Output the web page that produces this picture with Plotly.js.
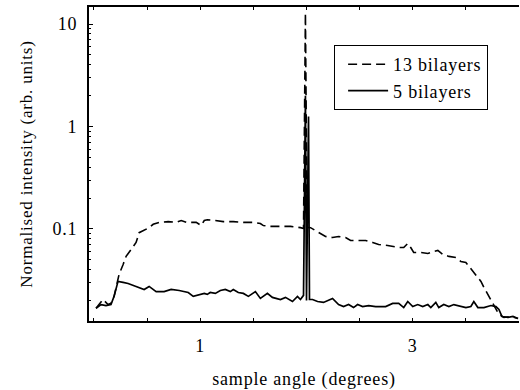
<!DOCTYPE html>
<html>
<head>
<meta charset="utf-8">
<script src="https://cdn.plot.ly/plotly-3.0.1.min.js"></script>
<style>html,body{margin:0;padding:0;background:#fff;}#chart{width:520px;height:390px;}
svg text{letter-spacing:0.8px;}</style>
</head>
<body>
<div id="chart"></div>
<script>
// 13 bilayers (dashed)
const angle13 = [0.019,0.085,0.132,0.160,0.189,0.236,0.274,0.302,0.349,0.396,0.425,0.472,0.519,0.557,0.613,0.698,0.774,0.821,0.868,0.962,1.009,1.038,1.066,1.142,1.217,1.311,1.406,1.5,1.566,1.594,1.660,1.755,1.849,1.943,1.972,1.99,2.005,2.038,2.066,2.113,2.179,2.245,2.302,2.368,2.415,2.481,2.557,2.623,2.679,2.764,2.821,2.868,2.915,2.953,2.981,3.009,3.075,3.142,3.198,3.236,3.283,3.34,3.406,3.453,3.5,3.547,3.594,3.642,3.67,3.717,3.764,3.811,3.858,3.925,3.991];
const intensity13 = [0.0168,0.0205,0.0183,0.0188,0.022,0.036,0.045,0.054,0.063,0.0738,0.092,0.097,0.103,0.111,0.116,0.118,0.116,0.121,0.116,0.116,0.108,0.121,0.123,0.121,0.118,0.118,0.116,0.116,0.113,0.108,0.106,0.106,0.106,0.103,0.101,12.8,0.104,0.103,0.099,0.092,0.0845,0.0826,0.0845,0.0826,0.0772,0.0772,0.0772,0.0738,0.0706,0.069,0.0675,0.066,0.066,0.0722,0.066,0.059,0.059,0.0577,0.0603,0.0617,0.0564,0.054,0.0527,0.0482,0.0471,0.0412,0.036,0.0308,0.0269,0.022,0.0179,0.0147,0.0137,0.014,0.0134];
// 5 bilayers (solid)
const angle5 = [0.019,0.066,0.113,0.160,0.189,0.226,0.274,0.321,0.396,0.472,0.519,0.585,0.660,0.726,0.802,0.887,0.934,0.991,1.038,1.066,1.094,1.142,1.189,1.236,1.283,1.311,1.358,1.406,1.453,1.519,1.566,1.632,1.679,1.755,1.802,1.868,1.915,1.943,1.972,1.99,2.0,2.019,2.028,2.057,2.104,2.160,2.245,2.302,2.349,2.396,2.443,2.481,2.528,2.585,2.651,2.745,2.811,2.868,2.915,2.953,3.0,3.047,3.094,3.142,3.17,3.217,3.245,3.292,3.34,3.387,3.453,3.5,3.547,3.575,3.613,3.67,3.736,3.783,3.811,3.84,3.896,3.943,3.991];
const intensity5 = [0.0168,0.0183,0.0179,0.0183,0.022,0.0308,0.0301,0.0294,0.0275,0.0257,0.0275,0.0245,0.0245,0.0257,0.0251,0.024,0.022,0.023,0.0235,0.023,0.024,0.0235,0.0251,0.0257,0.0245,0.0257,0.024,0.0235,0.022,0.0245,0.021,0.0235,0.0215,0.0205,0.0215,0.0196,0.022,0.0205,0.0225,2.0,0.02,1.25,0.0205,0.0205,0.0196,0.0192,0.021,0.0183,0.0175,0.0183,0.0171,0.0183,0.0175,0.0179,0.0175,0.0175,0.0188,0.0188,0.0171,0.0196,0.0175,0.0183,0.0175,0.0183,0.0171,0.0192,0.0171,0.0183,0.0175,0.0183,0.0175,0.0171,0.0175,0.0196,0.0171,0.0171,0.0179,0.0175,0.0164,0.014,0.0137,0.014,0.0134];
const seriesNames = ["13 bilayers", "5 bilayers"];
const xTickVals = [1, 3];
const xTickText = ["1", "3"];
const yTickVals = [0.1, 1, 10];
const yTickText = ["0.1", "1", "10"];

const minorY = [];
[0.01, 0.1, 1, 10].forEach(d => { for (let k = 2; k <= 9; k++) minorY.push(d * k); });

const FONT = '"Liberation Serif", "Times New Roman", serif';
const traces = [
  {x: angle13, y: intensity13, name: seriesNames[0], type: "scatter", mode: "lines",
   line: {color: "#000", width: 1.6, dash: "9px,5px"}},
  {x: angle5, y: intensity5, name: seriesNames[1], type: "scatter", mode: "lines",
   line: {color: "#000", width: 1.7}}
];
const layout = {
  width: 520, height: 390,
  margin: {l: 89, r: 1, t: 7, b: 69},
  paper_bgcolor: "#fff", plot_bgcolor: "#fff",
  font: {family: FONT, size: 18, color: "#000"},
  showlegend: true,
  legend: {x: 0.57, y: 0.879, xanchor: "left", yanchor: "top",
           bordercolor: "#000", borderwidth: 1, bgcolor: "#fff",
           itemwidth: 40, indentation: 8,
           font: {family: FONT, size: 18, color: "#000"}, tracegroupgap: 0},
  xaxis: {range: [-0.047, 4.0], tickmode: "array", tickvals: xTickVals, ticktext: xTickText,
          ticks: "inside", ticklen: 3, tickwidth: 1, tickcolor: "#000",
          showline: true, linewidth: 2, linecolor: "#000", mirror: "ticks",
          showgrid: false, zeroline: false,
          minor: {ticks: "inside", ticklen: 3, tickwidth: 1, tickcolor: "#000", dtick: 0.5, tick0: 0, showgrid: false},
          tickfont: {family: FONT, size: 18}, ticklabelstandoff: 7,
          title: {text: "sample angle (degrees)", font: {family: FONT, size: 18}, standoff: 22}},
  yaxis: {type: "log", range: [-1.898, 1.166], tickmode: "array", tickvals: yTickVals, ticktext: yTickText,
          ticks: "inside", ticklen: 4, tickwidth: 1, tickcolor: "#000",
          showline: true, linewidth: 2, linecolor: "#000",
          showgrid: false, zeroline: false,
          minor: {tickmode: "array", tickvals: minorY, ticks: "inside", ticklen: 2, tickwidth: 1, tickcolor: "#000", showgrid: false},
          tickfont: {family: FONT, size: 18}, ticklabelstandoff: 6,
          title: {text: "Normalised intensity (arb. units)", font: {family: FONT, size: 17}, standoff: 16}}
};
Plotly.newPlot("chart", traces, layout, {displayModeBar: false, staticPlot: true});
</script>
</body>
</html>
